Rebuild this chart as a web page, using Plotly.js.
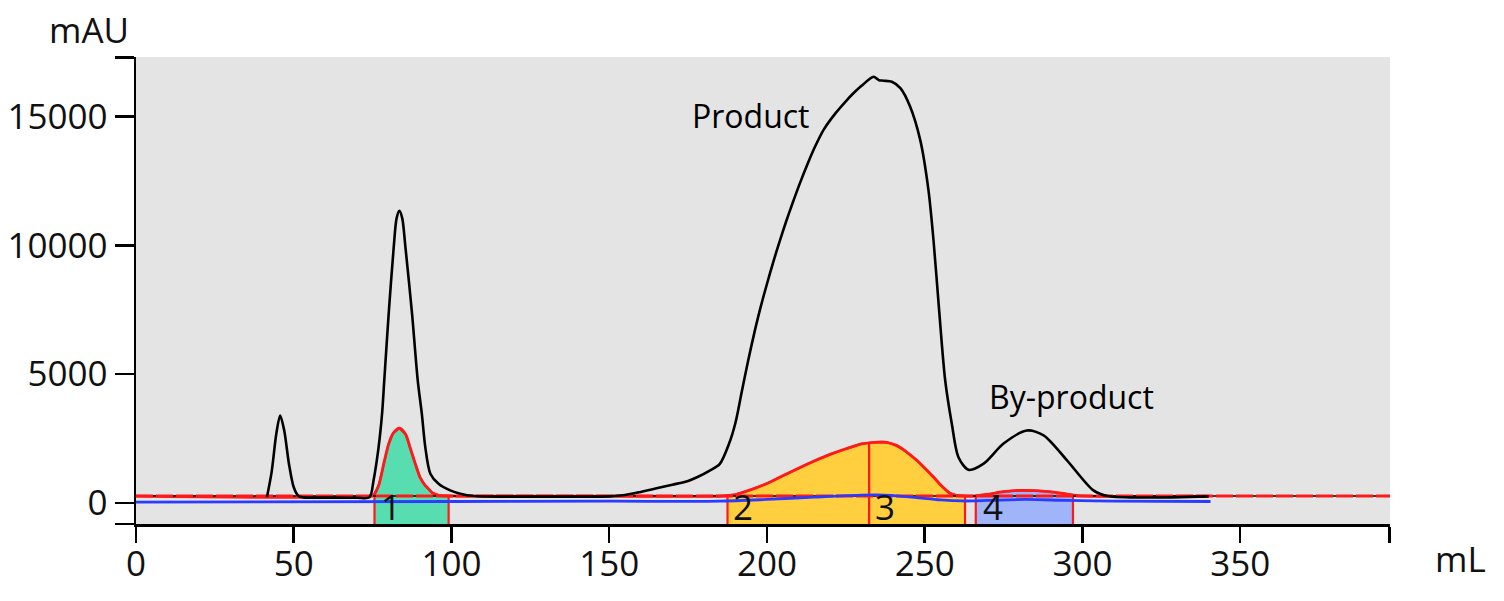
<!DOCTYPE html>
<html>
<head>
<meta charset="utf-8">
<script src="https://cdn.plot.ly/plotly-3.0.1.min.js"></script>
<style>
  html, body { margin: 0; padding: 0; background: #fff; }
  #plot { width: 1504px; height: 601px; }
</style>
</head>
<body>
<div id="plot"></div>
<script>
// UV trace (mAU vs mL)
const uvX = [41.5, 43, 44.5, 45.7, 47, 48.5, 50, 51.5, 53, 60, 70, 74, 75.3, 76.9, 78, 78.7, 80.1, 81.7, 82.6, 83.5,
    84.4, 85.4, 87.5, 89.3, 90.6, 91.7, 93.3, 95.9, 99.6, 102.8, 107, 120, 140, 150, 155, 160, 165, 170, 175, 178,
    182, 185, 188, 190, 192, 194, 196, 198, 200, 202, 204, 206, 208, 210.4, 213, 215.3, 218, 221.7, 225, 227.4, 230,
    233.8, 235.5, 237, 239.6, 242.3, 245.4, 248.6, 251.2, 252.8, 254.5, 256.5, 258.6, 260.7, 263.9, 268.7,
    275, 282.4, 287.7, 295.1, 303.5, 308, 340]
const uvY = [210, 1200, 2700, 3390, 2800, 1500, 600, 260, 210, 200, 195, 210, 870, 2160, 3460, 4760, 7350, 9940, 11050, 11340,
    11050, 9940, 7350, 4760, 3460, 2160, 1130, 740, 480, 350, 260, 240, 240, 250, 300, 420, 560, 700, 850, 1000,
    1260, 1500, 2300, 3100, 4300, 5500, 6600, 7600, 8500, 9350, 10150, 10900, 11600, 12400, 13200, 13850, 14500, 15130, 15600, 15910, 16200,
    16550, 16420, 16400, 16360, 16110, 15390, 14090, 12150, 10200, 7600, 4760, 3070, 1770, 1280, 1520,
    2300, 2810, 2620, 1650, 480, 260, 250]

// second signal (red), filled inside fractions
const redX = [0, 74, 75.5, 77, 78.5, 80, 81.5, 83.5, 85.5, 87, 88.5, 90, 91.5, 92.7, 94, 96, 99, 110,
    150, 186, 190, 195, 200, 205, 210, 215, 220, 225, 230, 234, 238, 241, 244, 247.5, 250, 252.8, 255, 258, 260, 262, 264,
    266, 270, 275, 280, 285, 290, 295, 298, 302, 340]
const redY = [258, 262, 330, 700, 1500, 2250, 2700, 2900, 2650, 2100, 1520, 1000, 700, 540, 380, 290, 265, 258,
    258, 262, 320, 510, 750, 1050, 1340, 1620, 1880, 2100, 2290, 2350, 2350, 2230, 2000, 1650, 1350, 1000, 700, 370, 290, 265, 258,
    262, 330, 430, 480, 470, 420, 340, 285, 260, 258]

// blue trace
const blueX = [0, 100, 150, 185, 200, 215, 230, 235, 245, 255, 262, 270, 282, 295, 310, 340.6]
const blueY = [25, 50, 60, 60, 130, 220, 300, 305, 230, 110, 70, 90, 130, 90, 60, 50]

// fractions
const fracStart = [75.6, 187.5, 232.4, 266.2]
const fracEnd = [99.1, 232.4, 262.8, 297.0]
const fracLabel = ["1", "2", "3", "4"]
const fracColor = ["#57ddb0", "#ffcf40", "#ffcf40", "#a0b4fa"]

const threshold = 260
const xMax = 397.5
const yMin = -825
const yMax = 17320

function interp(xs, ys, x) {
    for (let i = 1; i < xs.length; i++) {
        if (xs[i] >= x) {
            let t = (x - xs[i - 1]) / (xs[i] - xs[i - 1])
            return ys[i - 1] + t * (ys[i] - ys[i - 1])
        }
    }
    return ys[ys.length - 1]
}

let traces = []

// fraction areas: from the bottom of the plot up to the red curve
for (let i = 0; i < fracStart.length; i++) {
    let a = fracStart[i]
    let b = fracEnd[i]
    let px = [a, a]
    let py = [yMin, interp(redX, redY, a)]
    for (let k = 0; k < redX.length; k++) {
        if (redX[k] > a && redX[k] < b) {
            px.push(redX[k])
            py.push(redY[k])
        }
    }
    px.push(b, b)
    py.push(interp(redX, redY, b), yMin)
    traces.push({
        type: 'scatter', x: px, y: py, mode: 'lines', fill: 'toself',
        fillcolor: fracColor[i], line: {color: '#ff1a1a', width: 2.2}, hoverinfo: 'skip'
    })
}

traces.push({type: 'scatter', x: redX, y: redY, mode: 'lines',
    line: {color: '#ff1a1a', width: 2.8, shape: 'spline', smoothing: 0.8}})

// threshold line: black under red dashes
traces.push({type: 'scatter', x: [0, xMax], y: [threshold, threshold], mode: 'lines',
    line: {color: '#000', width: 1.5}})
traces.push({type: 'scatter', x: [0, xMax], y: [threshold, threshold], mode: 'lines',
    line: {color: '#ff1a1a', width: 3, dash: '17px,3px'}})

traces.push({type: 'scatter', x: blueX, y: blueY, mode: 'lines',
    line: {color: '#2b3cff', width: 2.8, shape: 'spline', smoothing: 0.8}})
traces.push({type: 'scatter', x: uvX, y: uvY, mode: 'lines',
    line: {color: '#000', width: 2.6, shape: 'spline', smoothing: 0.8}})

const tickFont = {family: 'Open Sans, sans-serif', size: 35, color: '#111'}
const textFont = {family: 'Open Sans, sans-serif', size: 32, color: '#000'}

let annotations = [
    {text: 'mAU', xref: 'paper', yref: 'paper', x: -0.0375, y: 1.058, xanchor: 'center', yanchor: 'middle',
        showarrow: false, font: tickFont},
    {text: 'mL', xref: 'paper', yref: 'paper', x: 1.056, y: -0.074, xanchor: 'center', yanchor: 'middle',
        showarrow: false, font: tickFont},
    {text: 'Product', x: 195, y: 15064, showarrow: false, font: textFont},
    {text: 'By-product', x: 296.5, y: 4134, showarrow: false, font: textFont},
]
const labelX = [80.9, 192.4, 237.4, 271.7]
for (let i = 0; i < fracLabel.length; i++) {
    annotations.push({text: fracLabel[i], x: labelX[i], y: -150, showarrow: false, font: tickFont})
}

let layout = {
    width: 1504,
    height: 601,
    margin: {l: 136, r: 114, t: 57, b: 77},
    paper_bgcolor: '#fff',
    plot_bgcolor: '#e4e4e4',
    showlegend: false,
    xaxis: {
        range: [0, xMax],
        showgrid: false, zeroline: false,
        showline: true, linecolor: '#000', linewidth: 2.5,
        ticks: 'outside', ticklen: 16, tickwidth: 2.5, tickcolor: '#000',
        tickmode: 'array',
        tickvals: [0, 50, 100, 150, 200, 250, 300, 350, 397.4],
        ticktext: ['0', '50', '100', '150', '200', '250', '300', '350', ''],
        ticklabelstandoff: -9,
        tickfont: tickFont
    },
    yaxis: {
        range: [yMin, yMax],
        showgrid: false, zeroline: false,
        showline: true, linecolor: '#000', linewidth: 2.5,
        ticks: 'outside', ticklen: 19, tickwidth: 2.5, tickcolor: '#000',
        tickmode: 'array',
        tickvals: [yMin, 0, 5000, 10000, 15000, 17310],
        ticktext: ['', '0', '5000', '10000', '15000', ''],
        tickfont: tickFont
    },
    annotations: annotations
}

Plotly.newPlot('plot', traces, layout, {staticPlot: true})
</script>
</body>
</html>
